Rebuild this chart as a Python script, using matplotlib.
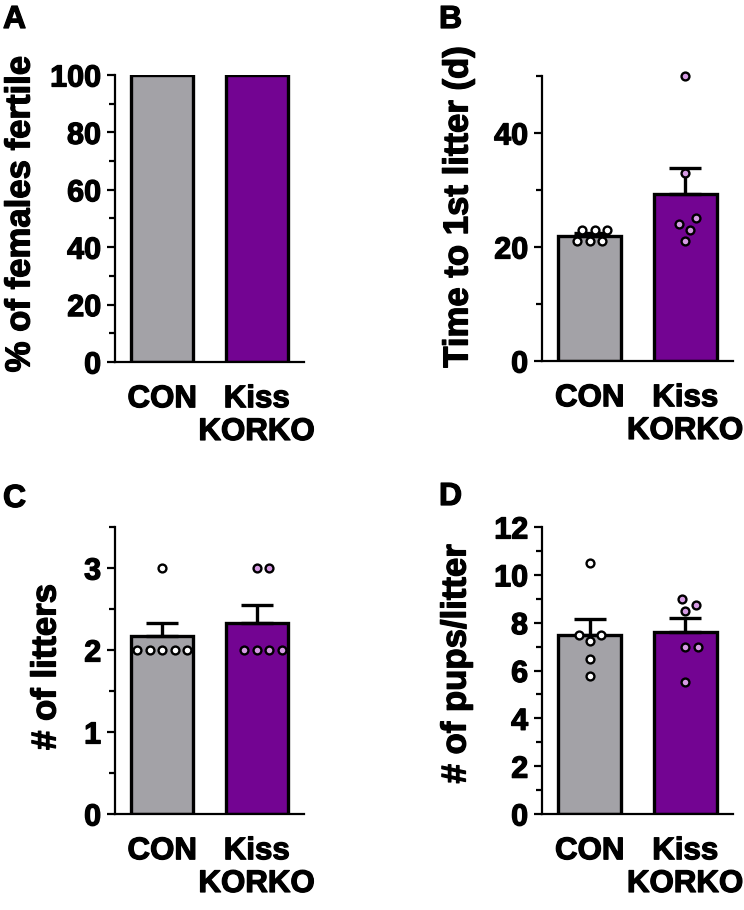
import numpy as np
import matplotlib
matplotlib.use("Agg")
import matplotlib.pyplot as plt
import matplotlib.patheffects as pe
from matplotlib.ticker import MultipleLocator

plt.rcParams['font.family'] = ['Liberation Sans', 'DejaVu Sans']
plt.rcParams['font.weight'] = 'bold'

# data
groups = ['CON', 'Kiss\nKORKO']
fertile_pct = [100, 100]
time_con = [21, 21, 21, 23, 23, 23]
time_korko = [50, 33, 25, 24, 23, 21]
litters_con = [2, 2, 2, 2, 2, 3]
litters_korko = [2, 2, 2, 2, 3, 3]
pups_con = [10.5, 7.5, 7.5, 7.25, 6.5, 5.75]
pups_korko = [9.0, 8.5, 8.75, 7.0, 7.0, 5.5]

bar_colors = ['#A3A2A7', '#730492']
dot_colors = ['white', '#D69BE4']

W, H = 744, 910
fig = plt.figure(figsize=(W / 100, H / 100), dpi=100)
heavy = [pe.withStroke(linewidth=0.9, foreground='black')]


def make_ax(l, r, t, b):
    return fig.add_axes([l / W, 1 - b / H, (r - l) / W, (b - t) / H])


def swarm(ax, vals, d):
    # simple beeswarm: offsets in pixels
    ys = ax.transData.transform(np.column_stack([np.zeros(len(vals)), vals]))[:, 1]
    offs = np.zeros(len(vals))
    placed = []
    for i in np.argsort(ys, kind='stable'):
        y = ys[i]
        cands = [0.0]
        for px, py in placed:
            dy = abs(y - py)
            if dy < d:
                dx = np.sqrt(d * d - dy * dy)
                cands += [px + dx, px - dx]
        cands.sort(key=lambda c: (round(abs(c), 3), -c))
        for c in cands:
            if all((c - px) ** 2 + (y - py) ** 2 >= d * d - 1e-6 for px, py in placed):
                offs[i] = c
                placed.append((c, y))
                break
    ppu = ax.transData.transform([(1, 0)])[0, 0] - ax.transData.transform([(0, 0)])[0, 0]
    return offs / ppu


def panel(ax, ymax, major, minor, series=None, heights=None):
    ax.set_xlim(-0.5, 1.5)
    ax.set_ylim(0, ymax)
    for s in ['top', 'right']:
        ax.spines[s].set_visible(False)
    for s in ['left', 'bottom']:
        ax.spines[s].set_linewidth(1.6)
    ax.yaxis.set_major_locator(MultipleLocator(major))
    ax.yaxis.set_minor_locator(MultipleLocator(minor))
    ax.tick_params(axis='y', which='major', length=6, width=1.6, labelsize=22, pad=4)
    ax.tick_params(axis='y', which='minor', length=4.5, width=1.6)
    ax.tick_params(axis='x', length=0, labelsize=22.5, pad=16)
    ax.set_xticks([0, 1])
    ax.set_xticklabels(groups, linespacing=1.12)
    for lab in ax.get_xticklabels() + ax.get_yticklabels():
        lab.set_path_effects(heavy)

    if series is not None:
        heights = [np.mean(v) for v in series]
    ax.bar([0, 1], heights, width=0.66, color=bar_colors, edgecolor='black',
           linewidth=2.4, zorder=2)
    if series is not None:
        for i, vals in enumerate(series):
            sem = np.std(vals, ddof=1) / np.sqrt(len(vals))
            ax.errorbar(i, np.mean(vals), yerr=[[0], [sem]], fmt='none', ecolor='black',
                        elinewidth=2.4, capsize=11.5, capthick=2.4, zorder=3)
            xo = swarm(ax, vals, 12.5)
            ax.scatter(i + xo, vals, s=32, facecolor=dot_colors[i], edgecolor='black',
                       linewidth=1.7, zorder=4, clip_on=False)
    return ax


axA = panel(make_ax(115, 304, 75, 362), 100, 20, 10, heights=fertile_pct)
axB = panel(make_ax(542, 733, 76, 361), 50, 20, 10, series=[time_con, time_korko])
axC = panel(make_ax(115, 304, 527, 814), 3.5, 1, 0.5, series=[litters_con, litters_korko])
axD = panel(make_ax(542, 733, 527, 814), 12, 2, 1, series=[pups_con, pups_korko])

# y labels
ylabels = [("% of females fertile", 20, 214), ("Time to 1st litter (d)", 458, 207),
           ("# of litters", 46, 667), ("# of pups/litter", 456, 664)]
for txt, x, y in ylabels:
    fig.text(x / W, 1 - y / H, txt, rotation=90, ha='center', va='center', fontsize=25,
             fontweight='bold', path_effects=heavy)

# panel letters
for letter, x, y in [("A", 3, 28), ("B", 439, 28), ("C", 3, 507), ("D", 439, 505)]:
    fig.text(x / W, 1 - y / H, letter, ha='left', va='baseline', fontsize=23,
             fontweight='bold', path_effects=heavy)

fig.savefig("out.png", dpi=100)
